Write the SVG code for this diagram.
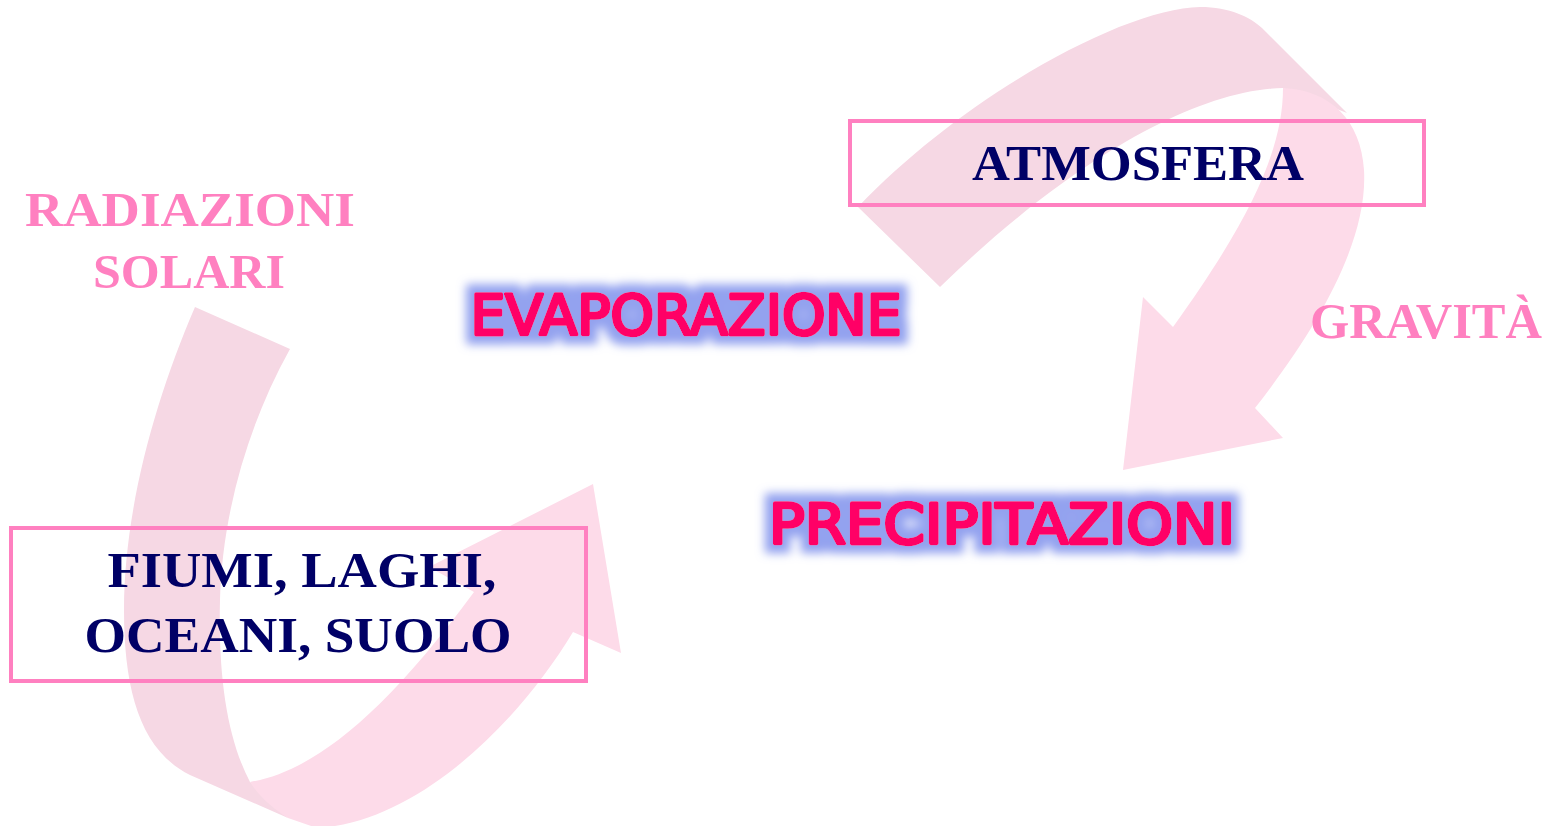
<svg xmlns="http://www.w3.org/2000/svg" width="1562" height="826" viewBox="0 0 1562 826">
<defs>
<style>
.back{fill:#f6d8e4;}
.front{fill:#fddbe9;}
.box{fill:none;stroke:#ff80c0;stroke-width:4;}
.navy{font-family:"Liberation Serif","Times New Roman",serif;font-weight:bold;fill:#000066;text-anchor:middle;}
.pinklbl{font-family:"Liberation Serif","Times New Roman",serif;font-weight:bold;fill:#ff80c0;text-anchor:middle;}
.comic{font-family:"Comic Sans MS","DejaVu Sans",sans-serif;font-weight:normal;fill:#ff0066;stroke:#ff0066;stroke-width:3.6;stroke-linejoin:round;stroke-linecap:round;text-anchor:middle;}
</style>
<filter id="glow" x="-10%" y="-50%" width="120%" height="200%">
<feMorphology in="SourceAlpha" operator="dilate" radius="8" result="d"/>
<feGaussianBlur in="d" stdDeviation="5" result="b"/>
<feFlood flood-color="#93a2ef"/>
<feComposite in2="b" operator="in" result="g"/>
<feMerge><feMergeNode in="g"/><feMergeNode in="SourceGraphic"/></feMerge>
</filter>
</defs>
<rect width="1562" height="826" fill="#ffffff"/>
<g id="connectors">
<g id="arrow-top">
<path class="back" d="M858,207 C965,95 1125,8 1200,7 C1230,7 1250,17 1262,28 L1347,113 L1283,88 C1190,90 1060,170 940,287 Z"/>
<path class="front" d="M1283,88 C1283,150 1250,220 1173,327 L1143,297 L1123,470 L1283,438 L1255,408 C1320,325 1368,240 1364,170 C1361,120 1330,90 1283,88 Z"/>
</g>
<g id="arrow-bottom">
<path class="back" d="M195,307 C155,400 124,510 124,610 C124,690 140,750 190,775 L288,818 L250,782 C228,740 218,680 220,600 C222,520 245,430 290,349 Z"/>
<path class="front" d="M250,782 C310,772 380,720 474,592 L429,567 L593,484 L621,653 L573,632 C520,720 420,822 317,828 L288,818 C275,810 260,798 250,782 Z"/>
</g>
</g>
<g id="atmosfera">
<rect class="box" x="850" y="121" width="574" height="84"/>
<text class="navy" x="1138" y="180" font-size="50" textLength="332" lengthAdjust="spacingAndGlyphs">ATMOSFERA</text>
</g>
<g id="fiumi">
<rect class="box" x="11" y="528" width="575" height="153"/>
<text class="navy" x="302" y="587" font-size="51" textLength="389" lengthAdjust="spacingAndGlyphs">FIUMI, LAGHI,</text>
<text class="navy" x="298" y="652" font-size="51" textLength="427" lengthAdjust="spacingAndGlyphs">OCEANI, SUOLO</text>
</g>
<g id="radiazioni">
<text class="pinklbl" x="190" y="226" font-size="49" textLength="330" lengthAdjust="spacingAndGlyphs">RADIAZIONI</text>
<text class="pinklbl" x="189" y="288" font-size="49" textLength="192" lengthAdjust="spacingAndGlyphs">SOLARI</text>
</g>
<g id="gravita">
<text class="pinklbl" x="1426" y="338" font-size="50" textLength="232" lengthAdjust="spacingAndGlyphs">GRAVITÀ</text>
</g>
<g id="evaporazione" filter="url(#glow)">
<text class="comic" x="686" y="334" font-size="56" textLength="431" lengthAdjust="spacingAndGlyphs">EVAPORAZIONE</text>
</g>
<g id="precipitazioni" filter="url(#glow)">
<text class="comic" x="1002" y="543" font-size="56" textLength="466" lengthAdjust="spacingAndGlyphs">PRECIPITAZIONI</text>
</g>
</svg>
